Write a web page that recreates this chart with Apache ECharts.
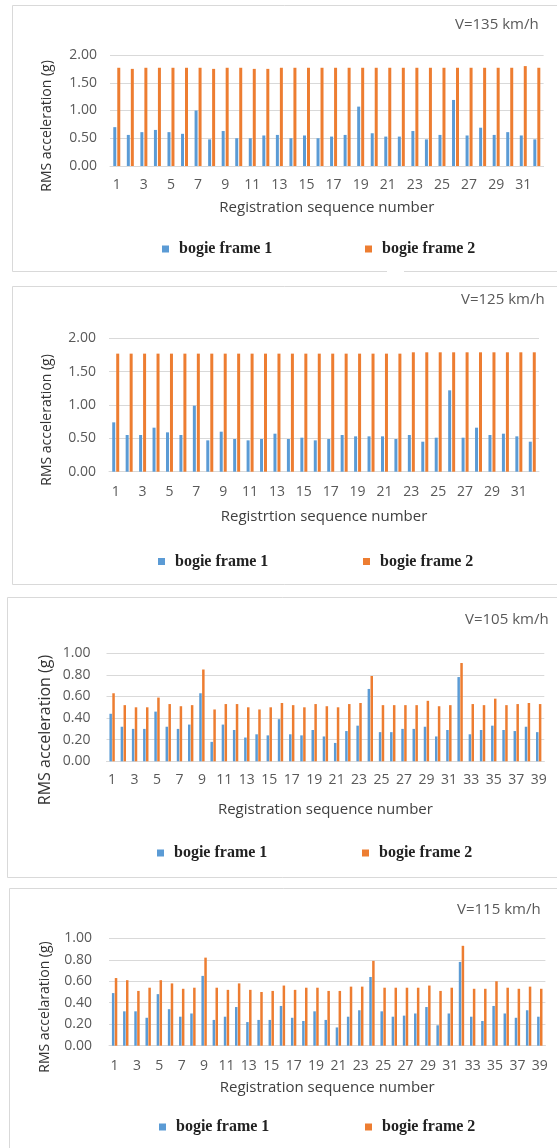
<!DOCTYPE html>
<html>
<head>
<meta charset="utf-8">
<script src="https://cdn.jsdelivr.net/npm/echarts@6/dist/echarts.min.js"></script>
<style>
html,body{margin:0;padding:0;background:#fff;}
#chart{width:557px;height:1148px;}
</style>
</head>
<body>
<div id="chart"></div>
<script>
// ---------- data ----------
const cats32 = ['1','2','3','4','5','6','7','8','9','10','11','12','13','14','15','16','17','18','19','20','21','22','23','24','25','26','27','28','29','30','31','32'];
const cats39 = ['1','2','3','4','5','6','7','8','9','10','11','12','13','14','15','16','17','18','19','20','21','22','23','24','25','26','27','28','29','30','31','32','33','34','35','36','37','38','39'];
const seriesNames = ['bogie frame 1', 'bogie frame 2'];
const titles = ['V=135 km/h', 'V=125 km/h', 'V=105 km/h', 'V=115 km/h'];
const xNames = ['Registration sequence number', 'Registrtion sequence number', 'Registration sequence number', 'Registration sequence number'];
const yNames = ['RMS acceleration (g)', 'RMS acceleration (g)', 'RMS acceleration (g)', 'RMS accelaration (g)'];

const v135_frame1 = [0.70,0.56,0.61,0.65,0.61,0.58,1.00,0.48,0.63,0.50,0.50,0.55,0.56,0.50,0.55,0.50,0.53,0.56,1.07,0.59,0.53,0.53,0.63,0.48,0.56,1.19,0.55,0.69,0.56,0.61,0.55,0.48];
const v135_frame2 = [1.77,1.75,1.77,1.77,1.77,1.77,1.77,1.75,1.77,1.77,1.75,1.75,1.77,1.77,1.77,1.77,1.77,1.77,1.77,1.77,1.77,1.77,1.77,1.77,1.77,1.77,1.77,1.77,1.77,1.77,1.80,1.77];

const v125_frame1 = [0.74,0.55,0.55,0.66,0.59,0.55,0.99,0.47,0.60,0.49,0.47,0.49,0.57,0.49,0.51,0.47,0.49,0.55,0.53,0.53,0.53,0.49,0.55,0.45,0.51,1.22,0.51,0.66,0.55,0.57,0.53,0.45];
const v125_frame2 = [1.77,1.77,1.77,1.77,1.77,1.77,1.77,1.77,1.77,1.77,1.77,1.77,1.77,1.77,1.77,1.77,1.77,1.77,1.77,1.77,1.77,1.77,1.79,1.79,1.79,1.79,1.79,1.79,1.79,1.79,1.79,1.79];

const v105_frame1 = [0.44,0.32,0.30,0.30,0.46,0.32,0.30,0.34,0.63,0.18,0.34,0.29,0.22,0.25,0.24,0.39,0.25,0.24,0.29,0.23,0.17,0.28,0.33,0.67,0.27,0.27,0.30,0.30,0.32,0.23,0.29,0.78,0.25,0.29,0.33,0.29,0.28,0.32,0.27];
const v105_frame2 = [0.63,0.52,0.50,0.50,0.59,0.53,0.51,0.52,0.85,0.48,0.53,0.53,0.50,0.48,0.50,0.54,0.52,0.50,0.53,0.51,0.50,0.53,0.54,0.79,0.52,0.52,0.52,0.52,0.56,0.51,0.52,0.91,0.53,0.52,0.58,0.52,0.53,0.54,0.53];

const v115_frame1 = [0.49,0.32,0.32,0.26,0.48,0.34,0.27,0.30,0.65,0.24,0.27,0.36,0.22,0.24,0.24,0.37,0.26,0.23,0.32,0.24,0.17,0.27,0.33,0.64,0.32,0.27,0.28,0.30,0.36,0.19,0.30,0.78,0.27,0.23,0.37,0.30,0.26,0.33,0.27];
const v115_frame2 = [0.63,0.61,0.51,0.54,0.61,0.58,0.53,0.54,0.82,0.54,0.52,0.58,0.52,0.50,0.51,0.56,0.52,0.54,0.54,0.51,0.51,0.55,0.55,0.79,0.54,0.54,0.54,0.54,0.56,0.51,0.54,0.93,0.53,0.53,0.60,0.54,0.53,0.55,0.53];

// ---------- layout ----------
const BLUE = '#5B9BD5', ORANGE = '#ED7D31', GRID = '#D9D9D9', LABEL = '#595959';
const SANS = 'Open Sans', SERIF = 'Liberation Serif';

const panels = [
  {cats: cats32, d1: v135_frame1, d2: v135_frame2, max: 2, step: 0.5,
   grid: {left:110, top:55, width:433.6, height:111}, bw:3, gap:'33%',
   titleX:455, titleY:25, xLabelMargin:12, xNameGap:34, yLabelMargin:13,
   yName:{x:47, y:126, size:14}, legY:249, leg1X:162, leg2X:365},
  {cats: cats32, d1: v125_frame1, d2: v125_frame2, max: 2, step: 0.5,
   grid: {left:109, top:338.3, width:430, height:133.4}, bw:3, gap:'33%',
   titleX:461, titleY:300, xLabelMargin:13, xNameGap:37, yLabelMargin:13,
   yName:{x:47, y:420, size:14}, legY:561.5, leg1X:158, leg2X:363},
  {cats: cats39, d1: v105_frame1, d2: v105_frame2, max: 1, step: 0.2,
   grid: {left:106.5, top:653.3, width:437.8, height:108}, bw:2.5, gap:'15%',
   titleX:465, titleY:620, xLabelMargin:12, xNameGap:40, yLabelMargin:16,
   yName:{x:45, y:730, size:16}, legY:853, leg1X:157, leg2X:362},
  {cats: cats39, d1: v115_frame1, d2: v115_frame2, max: 1, step: 0.2,
   grid: {left:109, top:938.3, width:436.4, height:107.4}, bw:2.5, gap:'15%',
   titleX:457, titleY:910, xLabelMargin:13, xNameGap:34, yLabelMargin:17,
   yName:{x:45, y:1007, size:14}, legY:1127, leg1X:159, leg2X:365}
];

const option = {
  animation: false,
  backgroundColor: '#fff',
  title: [], legend: [], grid: [], xAxis: [], yAxis: [], series: [], graphic: []
};

panels.forEach((p, i) => {
  option.title.push({
    text: titles[i], left: p.titleX, top: p.titleY - 8, padding: 0,
    textStyle: {fontFamily: SANS, fontSize: 15, fontWeight: 'normal', color: LABEL, lineHeight: 16}
  });
  [[seriesNames[0], p.leg1X], [seriesNames[1], p.leg2X]].forEach(([nm, lx]) => {
    option.legend.push({
      data: [nm], left: lx, top: p.legY - 8, padding: 0, icon: 'rect',
      itemWidth: 7, itemHeight: 7, selectedMode: false,
      textStyle: {fontFamily: SERIF, fontSize: 16, fontWeight: 'bold', color: '#222', lineHeight: 16, padding: [0,0,0,5]}
    });
  });
  option.grid.push(Object.assign({containLabel: false}, p.grid));
  option.xAxis.push({
    type: 'category', gridIndex: i, data: p.cats,
    axisTick: {show: false},
    axisLine: {lineStyle: {color: GRID, width: 1}},
    axisLabel: {interval: 1, color: LABEL, fontFamily: SANS, fontSize: 14, margin: p.xLabelMargin},
    name: xNames[i], nameLocation: 'middle', nameGap: p.xNameGap,
    nameTextStyle: {fontFamily: SANS, fontSize: 15, color: '#404040', lineHeight: 16}
  });
  option.yAxis.push({
    type: 'value', gridIndex: i, min: 0, max: p.max, interval: p.step,
    axisLine: {show: false}, axisTick: {show: false},
    splitLine: {lineStyle: {color: GRID, width: 1}},
    axisLabel: {color: LABEL, fontFamily: SANS, fontSize: 14, margin: p.yLabelMargin,
                formatter: v => v.toFixed(2)}
  });
  option.series.push({
    type: 'bar', name: seriesNames[0], xAxisIndex: i, yAxisIndex: i, data: p.d1,
    barWidth: p.bw, barGap: p.gap, itemStyle: {color: BLUE}
  });
  option.series.push({
    type: 'bar', name: seriesNames[1], xAxisIndex: i, yAxisIndex: i, data: p.d2,
    barWidth: p.bw, barGap: p.gap, itemStyle: {color: ORANGE}
  });
  option.graphic.push({
    type: 'text', x: p.yName.x, y: p.yName.y, rotation: Math.PI / 2, silent: true,
    style: {text: yNames[i], fontFamily: SANS, fontSize: p.yName.size, fill: '#333',
            align: 'center', verticalAlign: 'middle'}
  });
});

// panel frames
const frameLines = [
  [12.5,5.5,12.5,271.5],[12.5,5.5,557,5.5],[12.5,271.5,387,271.5],[404,271.5,557,271.5],
  [12.5,286.5,12.5,584.5],[12.5,286.5,557,286.5],[12.5,584.5,557,584.5],
  [7.5,597.5,7.5,877.5],[7.5,597.5,557,597.5],[7.5,877.5,557,877.5],
  [9.5,888.5,9.5,1148],[9.5,888.5,557,888.5]
];
frameLines.forEach(l => option.graphic.push({
  type: 'line', silent: true, z: -1,
  shape: {x1: l[0], y1: l[1], x2: l[2], y2: l[3]},
  style: {stroke: GRID, lineWidth: 1}
}));

const chart = echarts.init(document.getElementById('chart'), null, {renderer: 'canvas'});
chart.setOption(option);
</script>
</body>
</html>
